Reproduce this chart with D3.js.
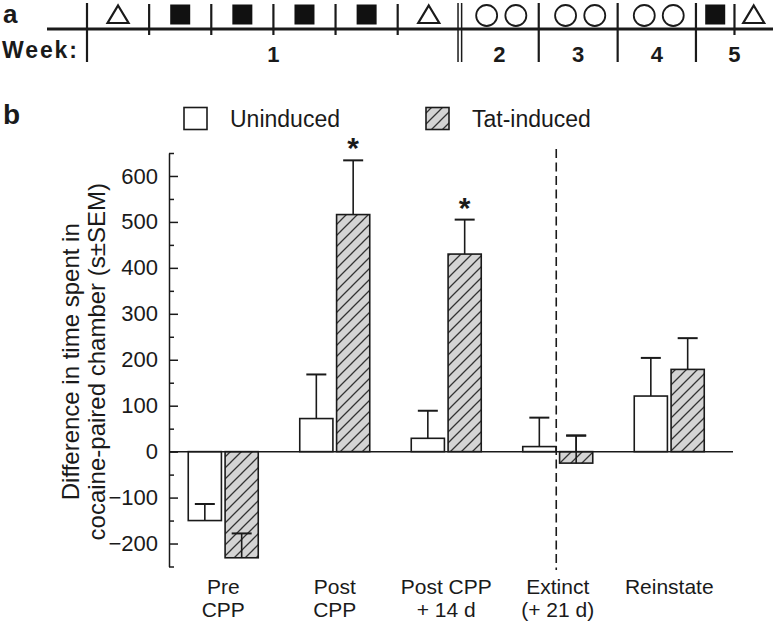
<!DOCTYPE html>
<html>
<head>
<meta charset="utf-8">
<script src="https://cdn.jsdelivr.net/npm/d3@7/dist/d3.min.js"></script>
<style>
  html, body { margin: 0; padding: 0; background: #fff; }
  svg { display: block; font-family: "Liberation Sans", Arial, Helvetica, sans-serif; }
</style>
</head>
<body>
<svg id="chart" width="779" height="629"></svg>
<script>
// ---------------- DATA ----------------
const categories = ["Pre CPP", "Post CPP", "Post CPP + 14 d", "Extinct (+ 21 d)", "Reinstate"];
const categoryLines = [["Pre", "CPP"], ["Post", "CPP"], ["Post CPP", "+ 14 d"], ["Extinct", "(+ 21 d)"], ["Reinstate"]];
const seriesNames = ["Uninduced", "Tat-induced"];
const uninduced = [-150, 72, 29, 11, 121];
const uninducedSEM = [36, 96, 60, 63, 83];
const tatInduced = [-231, 516, 430, -25, 179];
const tatInducedSEM = [53, 118, 75, 60, 68];
const significant = [false, true, true, false, false];
const yMajorTicks = [-200, -100, 0, 100, 200, 300, 400, 500, 600];
const yMinorTicks = [-250, -150, -50, 50, 150, 250, 350, 450, 550, 650];
const yTitle = ["Difference in time spent in", "cocaine-paired chamber (s\u00B1SEM)"];

// Panel a: schedule
const weekLabels = ["1", "2", "3", "4", "5"];
const weekSessions = [
  ["tri", "sq", "sq", "sq", "sq", "tri"],
  ["circ", "circ"],
  ["circ", "circ"],
  ["circ", "circ"],
  ["sq", "tri"]
];

// ---------------- LAYOUT ----------------
const svg = d3.select("#chart");
const ink = "#1a1a1a";

// ----- Panel a -----
const a = svg.append("g");
a.append("text").attr("x", 3).attr("y", 23).attr("font-size", 26).attr("font-weight", "bold").attr("fill", ink).text("a");
a.append("text").attr("x", 2).attr("y", 58).attr("font-size", 23).attr("font-weight", "bold").attr("fill", ink)
  .attr("textLength", 75).text("Week:");

// timeline scale (schematic units: week 1 = 6 session slots, later weeks ~1.27 slots)
const weekSpan = [6, 1.27, 1.27, 1.26, 1.24];
const cum = [0];
weekSpan.forEach(w => cum.push(cum[cum.length - 1] + w));
const tx = d3.scaleLinear().domain([0, cum[cum.length - 1]]).range([87, 773]);
const lineY = 29;

a.append("line").attr("x1", 47).attr("x2", tx(cum[cum.length - 1])).attr("y1", lineY).attr("y2", lineY)
  .attr("stroke", ink).attr("stroke-width", 3);

weekSessions.forEach((sess, wi) => {
  const w0 = cum[wi], w1 = cum[wi + 1];
  if (wi === 1) {
    [-1.8, 1.8].forEach(off => a.append("line").attr("x1", tx(w0) + off).attr("x2", tx(w0) + off)
      .attr("y1", 3).attr("y2", 62).attr("stroke", ink).attr("stroke-width", 1.5));
  } else {
    a.append("line").attr("x1", tx(w0)).attr("x2", tx(w0)).attr("y1", 3).attr("y2", 62)
      .attr("stroke", ink).attr("stroke-width", 2.2);
  }
  a.append("text").attr("x", (tx(w0) + tx(w1)) / 2).attr("y", 62).attr("text-anchor", "middle")
    .attr("font-size", 22).attr("font-weight", "bold").attr("fill", ink).text(weekLabels[wi]);
  const n = sess.length;
  let centers;
  if (sess[0] === "circ") {
    centers = [w0 + (w1 - w0) * 0.34, w0 + (w1 - w0) * 0.71];
  } else {
    centers = sess.map((s, i) => w0 + (w1 - w0) * (i + 0.5) / n);
    for (let i = 1; i < n; i++) {
      const p = tx(w0 + (w1 - w0) * i / n);
      a.append("line").attr("x1", p).attr("x2", p).attr("y1", 4).attr("y2", 35)
        .attr("stroke", ink).attr("stroke-width", 2.2);
    }
  }
  sess.forEach((s, i) => {
    const cx = tx(centers[i]), cy = 14.5;
    if (s === "sq") {
      a.append("rect").attr("x", cx - 10).attr("y", cy - 10).attr("width", 20).attr("height", 20).attr("fill", "#111");
    } else if (s === "tri") {
      a.append("path").attr("d", `M${cx},${cy - 9} L${cx + 10.5},${cy + 8.5} L${cx - 10.5},${cy + 8.5} Z`)
        .attr("fill", "none").attr("stroke", ink).attr("stroke-width", 2.2);
    } else {
      a.append("circle").attr("cx", cx).attr("cy", cy + 1).attr("r", 10.5).attr("fill", "none")
        .attr("stroke", ink).attr("stroke-width", 1.8);
    }
  });
});

// ----- Panel b -----
svg.append("text").attr("x", 3).attr("y", 124).attr("font-size", 28).attr("font-weight", "bold").attr("fill", ink).text("b");

const defs = svg.append("defs");
const pat = defs.append("pattern").attr("id", "hatch").attr("patternUnits", "userSpaceOnUse")
  .attr("width", 11).attr("height", 11);
pat.append("rect").attr("width", 11).attr("height", 11).attr("fill", "#d4d4d4");
pat.append("path").attr("d", "M-1,12 L12,-1 M-6,6 L6,-6 M5,17 L17,5").attr("stroke", "#333").attr("stroke-width", 1.3);

const y = d3.scaleLinear().domain([-250, 650]).range([566.5, 153]);
const x = d3.scaleBand().domain(categories).range([167.5, 725]);
const xs = d3.scaleBand().domain(seriesNames).range([-35, 35]).paddingInner(0.1);
const axisX = 169;

// axis
const gMajor = svg.append("g").attr("transform", `translate(${axisX},0)`)
  .call(d3.axisLeft(y).tickValues(yMajorTicks).tickSizeInner(-9).tickSizeOuter(0).tickPadding(11).tickFormat(d3.format("d")));
gMajor.select(".domain").attr("stroke", ink).attr("stroke-width", 1.5);
gMajor.selectAll(".tick line").attr("stroke", ink).attr("stroke-width", 1.5);
gMajor.selectAll(".tick text").attr("font-size", 22).attr("fill", ink).attr("font-family", "Liberation Sans, Arial, sans-serif");

const gMinor = svg.append("g").attr("transform", `translate(${axisX},0)`)
  .call(d3.axisLeft(y).tickValues(yMinorTicks).tickSizeInner(-5).tickSizeOuter(0).tickFormat(""));
gMinor.select(".domain").remove();
gMinor.selectAll(".tick line").attr("stroke", ink).attr("stroke-width", 1.5);

// y title
const yt = svg.append("text").attr("transform", `translate(0,${(y(-250) + y(650)) / 2 + 2}) rotate(-90)`)
  .attr("text-anchor", "middle").attr("font-size", 24).attr("fill", ink);
yt.append("tspan").attr("x", 0).attr("y", 79).text(yTitle[0]);
yt.append("tspan").attr("x", 0).attr("y", 105).text(yTitle[1]);

// legend
const legend = svg.append("g");
const legendPos = [[184, 230], [426, 472]];
seriesNames.forEach((s, i) => {
  legend.append("rect").attr("x", legendPos[i][0]).attr("y", 107.5).attr("width", 23).attr("height", 22)
    .attr("fill", i === 0 ? "#fff" : "url(#hatch)").attr("stroke", ink).attr("stroke-width", 1.6);
  legend.append("text").attr("x", legendPos[i][1]).attr("y", 127).attr("font-size", 23).attr("fill", ink).text(s);
});

// dashed separator
const sepX = x("Reinstate") - x.step() / 2 - 1.5;
svg.append("line").attr("x1", sepX).attr("x2", sepX).attr("y1", 149).attr("y2", 570)
  .attr("stroke", ink).attr("stroke-width", 1.6).attr("stroke-dasharray", "9,4.5");

// bars
const seriesVals = [uninduced, tatInduced];
const seriesSEM = [uninducedSEM, tatInducedSEM];
const barsG = svg.append("g");
function whisker(ex, v, e) {
  barsG.append("line").attr("x1", ex).attr("x2", ex).attr("y1", y(v)).attr("y2", y(v + e))
    .attr("stroke", ink).attr("stroke-width", 1.6);
  barsG.append("line").attr("x1", ex - 10).attr("x2", ex + 10).attr("y1", y(v + e)).attr("y2", y(v + e))
    .attr("stroke", ink).attr("stroke-width", 2);
}
categories.forEach((c, ci) => {
  const cx = x(c) + x.bandwidth() / 2;
  seriesNames.forEach((s, si) => {
    const v = seriesVals[si][ci], e = seriesSEM[si][ci];
    const bx = cx + xs(s), bw = xs.bandwidth();
    const ex = bx + bw / 2;
    whisker(ex, v, e);
    barsG.append("rect").attr("x", bx).attr("width", bw)
      .attr("y", Math.min(y(v), y(0))).attr("height", Math.abs(y(v) - y(0)))
      .attr("fill", si === 0 ? "#fff" : "url(#hatch)").attr("stroke", ink).attr("stroke-width", 1.6);
    if (v < 0) whisker(ex, v, e);
    if (si === 1 && significant[ci]) {
      barsG.append("text").attr("x", ex).attr("y", y(v + e) - 2).attr("text-anchor", "middle")
        .attr("font-size", 30).attr("font-weight", "bold").attr("fill", ink).text("*");
    }
  });
});

// zero line
svg.append("line").attr("x1", axisX).attr("x2", 733).attr("y1", y(0)).attr("y2", y(0))
  .attr("stroke", ink).attr("stroke-width", 1.5);

// category labels
categories.forEach((c, ci) => {
  const cx = x(c) + x.bandwidth() / 2;
  const t = svg.append("text").attr("text-anchor", "middle").attr("font-size", 21).attr("fill", ink);
  categoryLines[ci].forEach((ln, li) => {
    t.append("tspan").attr("x", cx).attr("y", 594 + li * 23).text(ln);
  });
});
</script>
</body>
</html>
